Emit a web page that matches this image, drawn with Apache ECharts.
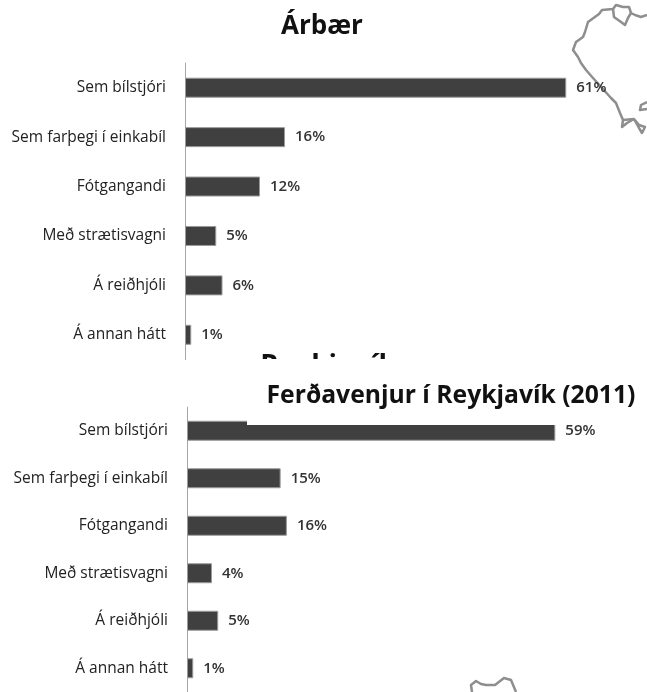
<!DOCTYPE html>
<html>
<head>
<meta charset="utf-8">
<style>
    html, body { margin: 0; padding: 0; background: #fff; }
    #chart { width: 647px; height: 692px; }
</style>
<script src="https://cdn.jsdelivr.net/npm/echarts@6/dist/echarts.min.js"></script>
</head>
<body>
<div id="chart"></div>
<script>
// gögn lesin af myndinni
let categories = ['Sem bílstjóri', 'Sem farþegi í einkabíl', 'Fótgangandi', 'Með strætisvagni', 'Á reiðhjóli', 'Á annan hátt']
let arbaerValues = [61, 16, 12, 5, 6, 1]
let reykjavikValues = [59, 15, 16, 4, 5, 1]

let fontName = '"Open Sans", Lato, sans-serif'
let barColor = '#404040'

// kortaútlínur á bak við (skraut, ekki gögn)
let mapTop = [[647, 15], [641, 17], [635, 15], [631, 13], [629, 7], [623, 7], [616, 5], [613, 9], [602, 10], [599, 14], [588, 22], [585, 32], [583, 37], [576, 42], [573, 50], [578, 57], [581, 63], [586, 70], [593, 78], [602, 88], [611, 98], [616, 103], [620, 113], [623, 120], [634, 119], [639, 125], [645, 127], [642, 133], [639, 128], [634, 119]]
let mapIsland = [[613, 9], [614, 17], [621, 22], [625, 25], [628, 18], [631, 13]]
let mapHook = [[623, 120], [622, 127], [627, 123], [634, 119]]
let mapRight = [[647, 102], [641, 105], [640, 110], [647, 109]]
let mapBottom = [[472, 692], [471, 685], [476, 681], [481, 684], [486, 685], [495, 685], [504, 678], [511, 680], [516, 692]]

function mapLine (points) {
    return {
        type: 'polyline',
        z: 0,
        silent: true,
        shape: { points: points },
        style: { stroke: '#8e8e8e', lineWidth: 2.5, fill: null, lineJoin: 'round' }
    }
}

function yAxisFor (gridIndex) {
    return {
        type: 'category',
        gridIndex: gridIndex,
        data: categories,
        inverse: true,
        axisLine: { show: true, lineStyle: { color: '#a6a6a6', width: 1 } },
        axisTick: { show: false },
        axisLabel: {
            margin: 19,
            color: '#222',
            fontFamily: fontName,
            fontSize: 15.5
        }
    }
}

function xAxisFor (gridIndex) {
    return { type: 'value', gridIndex: gridIndex, min: 0, max: 70, show: false }
}

function seriesFor (index, values) {
    return {
        type: 'bar',
        xAxisIndex: index,
        yAxisIndex: index,
        data: values,
        barWidth: 20,
        itemStyle: { color: barColor, borderColor: '#9a9a9a', borderWidth: 1 },
        label: {
            show: true,
            position: 'right',
            distance: 10,
            formatter: '{c}%',
            color: '#333',
            fontFamily: fontName,
            fontWeight: 600,
            fontSize: 15
        }
    }
}

let myChart = echarts.init(document.getElementById('chart'))
myChart.setOption({
    animation: false,
    backgroundColor: '#fff',
    title: [
        {
            text: 'Árbær',
            left: 317,
            top: 9,
            textAlign: 'center',
            textStyle: { fontFamily: fontName, fontSize: 26, fontWeight: 'bold', color: '#111' }
        },
        {
            // gamli titillinn sem sést að hluta undir hvíta reitnum
            text: 'Reykjavík',
            left: 323,
            top: 348,
            z: 3,
            textAlign: 'center',
            textStyle: { fontFamily: fontName, fontSize: 28, fontWeight: 'bold', color: '#111' }
        },
        {
            text: 'Ferðavenjur í Reykjavík (2011)',
            left: 446,
            top: 378,
            z: 101,
            textAlign: 'center',
            textStyle: { fontFamily: fontName, fontSize: 24.7, fontWeight: 'bold', color: '#111' }
        }
    ],
    grid: [
        { left: 185, top: 63, width: 437.5, height: 296.5 },
        { left: 187, top: 407, width: 437, height: 288 }
    ],
    xAxis: [xAxisFor(0), xAxisFor(1)],
    yAxis: [yAxisFor(0), yAxisFor(1)],
    series: [seriesFor(0, arbaerValues), seriesFor(1, reykjavikValues)],
    graphic: [
        mapLine(mapTop),
        mapLine(mapIsland),
        mapLine(mapHook),
        mapLine(mapRight),
        mapLine(mapBottom),
        {
            // hvítur reitur sem klippir efri stöplana og gamla titilinn
            type: 'rect',
            z: 100,
            silent: true,
            shape: { x: 247, y: 359, width: 400, height: 66 },
            style: { fill: '#fff' }
        }
    ]
})
</script>
</body>
</html>
